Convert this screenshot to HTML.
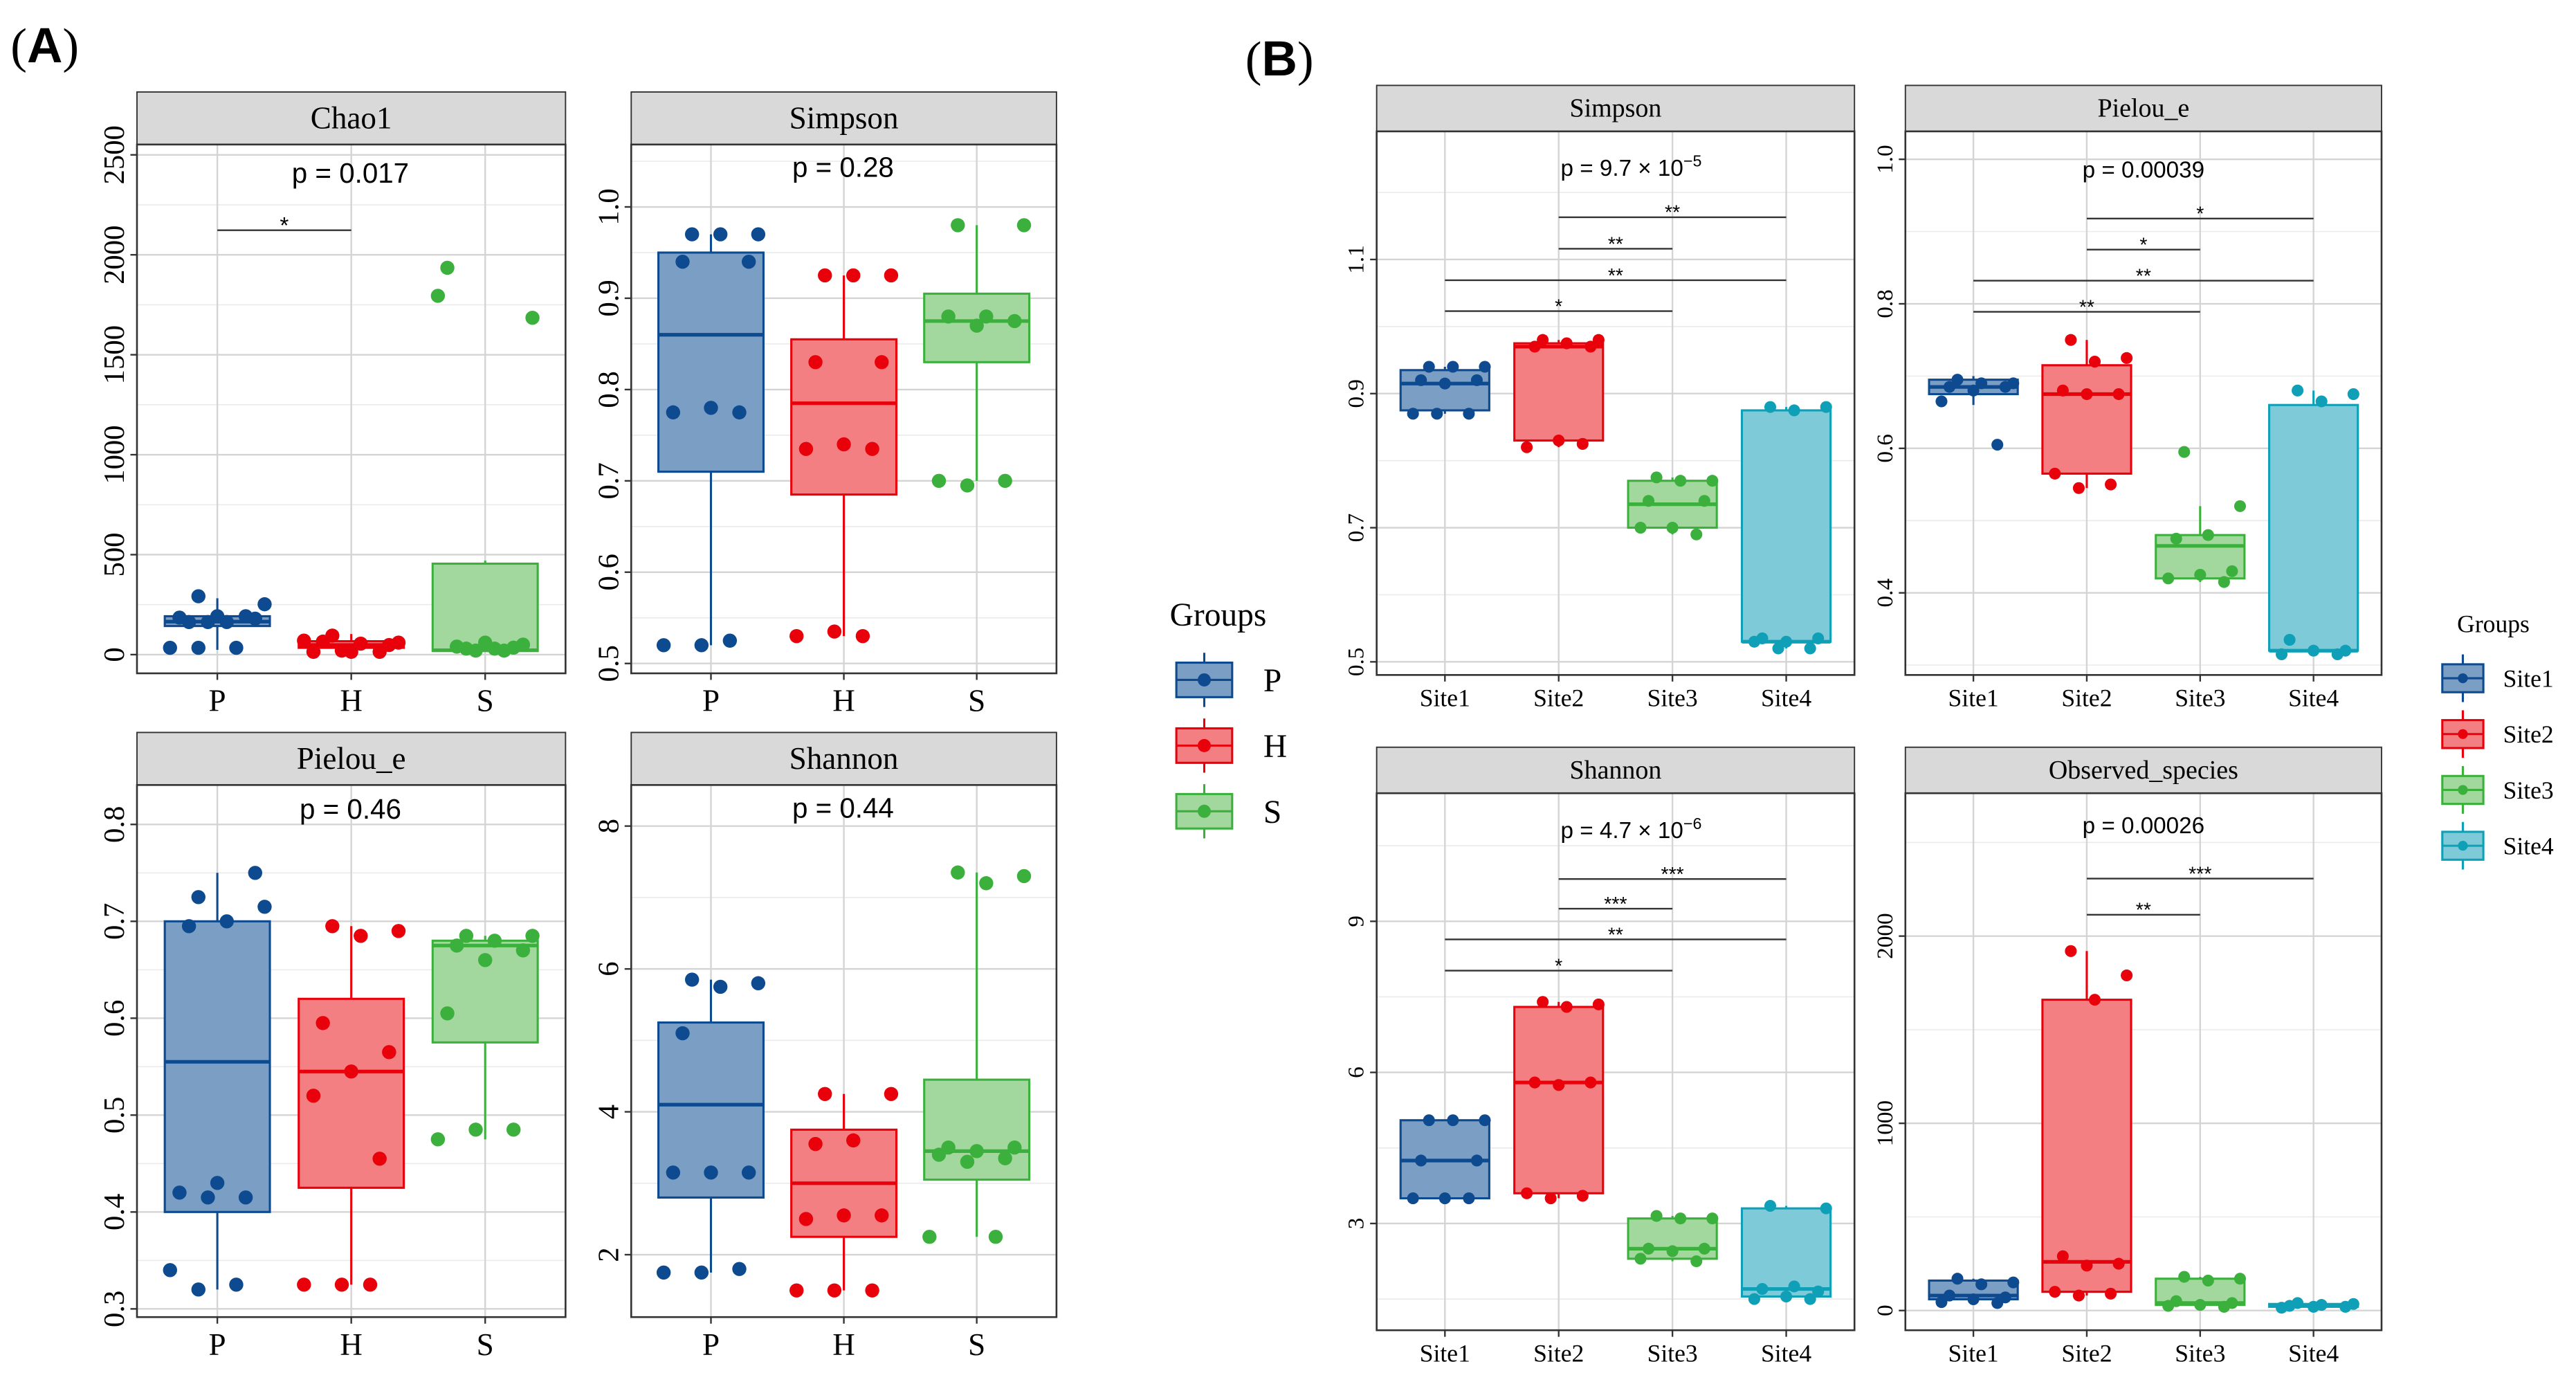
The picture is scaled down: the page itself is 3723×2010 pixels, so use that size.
<!DOCTYPE html>
<html><head><meta charset="utf-8"><style>
html,body{margin:0;padding:0;background:#fff}
svg{display:block}
</style></head><body>
<svg id="fig" xmlns="http://www.w3.org/2000/svg" width="3723" height="2010" viewBox="0 0 1568 847">
<rect x="0" y="0" width="1568" height="847" fill="#fff"/>
<text x="6" y="38" font-family="Liberation Serif, serif" font-size="30">(<tspan font-family="Liberation Sans, sans-serif" font-weight="bold">A</tspan>)</text>
<text x="758" y="46" font-family="Liberation Serif, serif" font-size="30">(<tspan font-family="Liberation Sans, sans-serif" font-weight="bold">B</tspan>)</text>
</svg>
<script>
// ---------- DATA ----------
const catsA = ['P','H','S'];
const catsB = ['Site1','Site2','Site3','Site4'];

const chaoTicks = [0,500,1000,1500,2000,2500];
const chaoQ1 = [143,34,18];
const chaoMed = [165,48,22];
const chaoQ3 = [192,67,455];
const chaoLo = [24,14,16];
const chaoHi = [282,103,470];
const chaoPts = [[292,252,163,163,180,192,185,192,163,34,34,34],[95,60,55,65,48,14,14,14,20,70],[30,1685,30,40,50,60,1935,35,20,1795,20]];
const chaoSig = [[0,1,2123,'*']];

const simATicks = [0.5,0.6,0.7,0.8,0.9,1.0];
const simAQ1 = [0.71,0.685,0.83];
const simAMed = [0.86,0.785,0.875];
const simAQ3 = [0.95,0.855,0.905];
const simALo = [0.52,0.53,0.70];
const simAHi = [0.97,0.925,0.98];
const simAPts = [[0.97,0.97,0.97,0.94,0.94,0.78,0.775,0.775,0.52,0.52,0.525],[0.925,0.925,0.925,0.83,0.83,0.74,0.735,0.735,0.535,0.53,0.53],[0.98,0.98,0.88,0.88,0.875,0.87,0.70,0.70,0.695]];

const pieATicks = [0.3,0.4,0.5,0.6,0.7,0.8];
const pieAQ1 = [0.40,0.425,0.575];
const pieAMed = [0.555,0.545,0.675];
const pieAQ3 = [0.70,0.62,0.68];
const pieALo = [0.32,0.325,0.475];
const pieAHi = [0.75,0.695,0.685];
const pieAPts = [[0.725,0.715,0.70,0.695,0.75,0.43,0.42,0.415,0.415,0.34,0.325,0.32],[0.695,0.69,0.685,0.595,0.565,0.545,0.52,0.455,0.325,0.325,0.325],[0.685,0.685,0.68,0.675,0.67,0.66,0.605,0.485,0.485,0.475]];

const shaATicks = [2,4,6,8];
const shaAQ1 = [2.8,2.25,3.05];
const shaAMed = [4.1,3.0,3.45];
const shaAQ3 = [5.25,3.75,4.45];
const shaALo = [1.75,1.5,2.25];
const shaAHi = [5.85,4.25,7.35];
const shaAPts = [[5.85,5.8,5.75,5.1,3.15,3.15,3.15,1.8,1.75,1.75],[4.25,4.25,3.6,3.55,2.55,2.55,2.5,1.5,1.5,1.5],[7.35,7.3,7.2,3.5,3.5,3.45,3.4,3.35,3.3,2.25,2.25]];

const simBTicks = [0.5,0.7,0.9,1.1];
const simBQ1 = [0.875,0.83,0.70,0.53];
const simBMed = [0.915,0.97,0.735,0.53];
const simBQ3 = [0.935,0.975,0.77,0.875];
const simBLo = [0.87,0.82,0.69,0.52];
const simBHi = [0.94,0.98,0.775,0.88];
const simBPts = [[0.94,0.94,0.94,0.92,0.92,0.915,0.87,0.87,0.87],[0.98,0.98,0.975,0.97,0.97,0.83,0.82,0.825],[0.775,0.77,0.77,0.74,0.74,0.70,0.70,0.69],[0.88,0.88,0.875,0.535,0.535,0.53,0.53,0.52,0.52]];
const simBSig = [[1,3,1.163,'**'],[1,2,1.116,'**'],[0,3,1.069,'**'],[0,2,1.023,'*']];

const pieBTicks = [0.4,0.6,0.8,1.0];
const pieBQ1 = [0.675,0.565,0.42,0.32];
const pieBMed = [0.685,0.675,0.465,0.32];
const pieBQ3 = [0.695,0.715,0.48,0.66];
const pieBLo = [0.66,0.545,0.415,0.315];
const pieBHi = [0.70,0.75,0.52,0.68];
const pieBPts = [[0.695,0.69,0.69,0.685,0.685,0.68,0.665,0.605],[0.75,0.725,0.72,0.68,0.675,0.675,0.565,0.55,0.545],[0.595,0.52,0.48,0.475,0.43,0.425,0.42,0.415],[0.68,0.675,0.665,0.335,0.32,0.32,0.315,0.315]];
const pieBSig = [[1,3,0.918,'*'],[1,2,0.875,'*'],[0,3,0.832,'**'],[0,2,0.789,'**']];

const shaBTicks = [3,6,9];
const shaBQ1 = [3.5,3.6,2.3,1.55];
const shaBMed = [4.25,5.8,2.5,1.7];
const shaBQ3 = [5.05,7.3,3.1,3.3];
const shaBLo = [3.5,3.5,2.25,1.5];
const shaBHi = [5.05,7.4,3.15,3.35];
const shaBPts = [[5.05,5.05,5.05,4.25,4.25,3.5,3.5,3.5],[7.4,7.35,7.3,5.8,5.8,5.75,3.6,3.55,3.5],[3.15,3.1,3.1,2.5,2.5,2.45,2.3,2.25],[3.35,3.3,1.75,1.7,1.65,1.55,1.5,1.5]];
const shaBSig = [[1,3,9.84,'***'],[1,2,9.25,'***'],[0,3,8.64,'**'],[0,2,8.02,'*']];

const obsTicks = [0,1000,2000];
const obsQ1 = [60,100,30,20];
const obsMed = [80,260,40,25];
const obsQ3 = [160,1660,170,35];
const obsLo = [40,80,20,15];
const obsHi = [170,1920,180,40];
const obsPts = [[170,150,140,80,70,60,45,40],[1920,1790,1660,290,250,240,100,90,80],[180,170,160,50,40,30,25,20],[40,35,30,25,20,20,15]];
const obsSig = [[1,3,2307,'***'],[1,2,2114,'**']];

// ---------- RENDER ----------
const NS='http://www.w3.org/2000/svg';
const svg=document.getElementById('fig');
const strokeC=['#0d4a8f','#e8000b','#3cb03c','#0f9fb6'];
const fillC=['#7b9ec4','#f47f82','#a2d89d','#7fcad8'];
function el(tag,attrs,parent){const e=document.createElementNS(NS,tag);for(const k in attrs)e.setAttribute(k,attrs[k]);(parent||svg).appendChild(e);return e;}
function txt(s,attrs,parent){const e=el('text',attrs,parent);e.textContent=s;return e;}

function panel(cfg){
  const g=el('g',{});
  
  
  const {x0,x1,y0,y1}=cfg;
  const n=cfg.cats.length;
  const xS=i=>x0+(x1-x0)*(i+0.6)/(n+0.2);
  const yS=v=>cfg.yA+(v-cfg.vA)*(cfg.yB-cfg.yA)/(cfg.vB-cfg.vA);
  const st=el('rect',{x:x0,y:y0-cfg.stripH,width:x1-x0,height:cfg.stripH,fill:'#d9d9d9',stroke:'#333','stroke-width':0.8},g);
  
  
  const tt=txt(cfg.title,{x:(x0+x1)/2,y:y0-cfg.stripH/2+cfg.fs*0.36,'text-anchor':'middle','font-family':'Liberation Serif, serif','font-size':cfg.fs+2},g);
  
  
  el('rect',{x:x0,y:y0,width:x1-x0,height:y1-y0,fill:'#fff'},g);
  const t=cfg.ticks;
  const step=t[1]-t[0];
  for(let v=t[0]-step/2;v<=t[t.length-1]+step;v+=step){const y=yS(v);if(y>y0&&y<y1)el('line',{x1:x0,x2:x1,y1:y,y2:y,stroke:'#ebebeb','stroke-width':0.7},g);}
  for(const v of t){const y=yS(v);el('line',{x1:x0,x2:x1,y1:y,y2:y,stroke:'#d4d4d4','stroke-width':1},g);}
  for(let i=0;i<n;i++)el('line',{x1:xS(i),x2:xS(i),y1:y0,y2:y1,stroke:'#d4d4d4','stroke-width':1},g);
  const bw=cfg.bw;
  for(let i=0;i<n;i++){
    const c=i;const cx=xS(i);
    const bg=el('g',{},g);
    
    
    el('line',{x1:cx,x2:cx,y1:yS(cfg.hi[i]),y2:yS(cfg.lo[i]),stroke:strokeC[c],'stroke-width':1.3},bg);
    const yq3=yS(cfg.q3[i]),yq1=yS(cfg.q1[i]);
    el('rect',{x:cx-bw/2,y:Math.min(yq1,yq3),width:bw,height:Math.max(1,Math.abs(yq1-yq3)),fill:fillC[c],stroke:strokeC[c],'stroke-width':1.3},bg);
    el('line',{x1:cx-bw/2,x2:cx+bw/2,y1:yS(cfg.med[i]),y2:yS(cfg.med[i]),stroke:strokeC[c],'stroke-width':2.2},bg);
    const pts=cfg.pts[i];
    pts.forEach((v,k)=>{
      const j=(((k*7+3)%11)/10-0.5)*bw*0.9;
      const p=el('circle',{cx:cx+j,cy:yS(v),r:cfg.r,fill:strokeC[c]},bg);
      
      
    });
  }
  (cfg.sig||[]).forEach(s=>{
    const y=yS(s[2]);
    const l=el('line',{x1:xS(s[0]),x2:xS(s[1]),y1:y,y2:y,stroke:'#333','stroke-width':1},g);
    
    
    const st2=txt(s[3],{x:(xS(s[0])+xS(s[1]))/2,y:y-3+cfg.starFs*0.35,'text-anchor':'middle','font-family':'Liberation Sans, sans-serif','font-size':cfg.starFs},g);
    
    
  });
  const pt=el('text',{x:cfg.pX,y:yS(cfg.pV),'text-anchor':'middle','font-family':'Liberation Sans, sans-serif','font-size':cfg.pFs},g);
  
  
  if(cfg.pExp){pt.textContent=cfg.pText;const ts=el('tspan',{'font-size':cfg.pFs*0.7,dy:-cfg.pFs*0.4},pt);ts.textContent=cfg.pExp;}
  else pt.textContent=cfg.pText;
  el('rect',{x:x0,y:y0,width:x1-x0,height:y1-y0,fill:'none',stroke:'#333','stroke-width':1.1},g);
  for(const v of t){const y=yS(v);
    el('line',{x1:x0-4,x2:x0,y1:y,y2:y,stroke:'#333','stroke-width':1},g);
    const lb=txt(String(v%1===0&&cfg.dec?v.toFixed(1):v),{x:x0-8,y:y,'text-anchor':'middle','font-family':'Liberation Serif, serif','font-size':cfg.tfs,transform:`rotate(-90 ${x0-8} ${y})`},g);
    
    
  }
  for(let i=0;i<n;i++){
    el('line',{x1:xS(i),x2:xS(i),y1:y1,y2:y1+4,stroke:'#333','stroke-width':1},g);
    const lb=txt(cfg.cats[i],{x:xS(i),y:y1+cfg.cfs+4,'text-anchor':'middle','font-family':'Liberation Serif, serif','font-size':cfg.cfs},g);
    
    
  }
}

const A={stripH:32,fs:17,bw:64,r:4.3,tfs:18,cfs:19,pFs:17,starFs:14,cats:catsA};
const B={stripH:28,fs:14,bw:54,r:3.6,tfs:14,cfs:15,pFs:14,starFs:12,cats:catsB};

panel(Object.assign({},A,{id:'chao1',title:'Chao1',x0:83,x1:344,y0:88,y1:410,vA:0,yA:398.6,vB:2500,yB:94.3,ticks:chaoTicks,q1:chaoQ1,med:chaoMed,q3:chaoQ3,lo:chaoLo,hi:chaoHi,pts:chaoPts,sig:chaoSig,pX:213,pV:2360,pText:'p = 0.017'}));
panel(Object.assign({},A,{id:'simpson-a',title:'Simpson',x0:384,x1:643,y0:88,y1:410,vA:0.5,yA:404,vB:1.0,yB:126,dec:true,ticks:simATicks,q1:simAQ1,med:simAMed,q3:simAQ3,lo:simALo,hi:simAHi,pts:simAPts,pX:513,pV:1.033,pText:'p = 0.28'}));
panel(Object.assign({},A,{id:'pielou-a',title:'Pielou_e',x0:83,x1:344,y0:478,y1:802,vA:0.3,yA:797,vB:0.8,yB:502,ticks:pieATicks,q1:pieAQ1,med:pieAMed,q3:pieAQ3,lo:pieALo,hi:pieAHi,pts:pieAPts,pX:213,pV:0.806,pText:'p = 0.46'}));
panel(Object.assign({},A,{id:'shannon-a',title:'Shannon',x0:384,x1:643,y0:478,y1:802,vA:2,yA:764,vB:8,yB:503,ticks:shaATicks,q1:shaAQ1,med:shaAMed,q3:shaAQ3,lo:shaALo,hi:shaAHi,pts:shaAPts,pX:513,pV:8.12,pText:'p = 0.44'}));

panel(Object.assign({},B,{id:'simpson-b',title:'Simpson',x0:838,x1:1129,y0:80,y1:411,vA:0.5,yA:403,vB:1.1,yB:158,ticks:simBTicks,q1:simBQ1,med:simBMed,q3:simBQ3,lo:simBLo,hi:simBHi,pts:simBPts,sig:simBSig,pX:993,pV:1.225,pText:'p = 9.7 × 10',pExp:'−5'}));
panel(Object.assign({},B,{id:'pielou-b',title:'Pielou_e',x0:1160,x1:1450,y0:80,y1:411,vA:0.4,yA:361,vB:1.0,yB:97,dec:true,ticks:pieBTicks,q1:pieBQ1,med:pieBMed,q3:pieBQ3,lo:pieBLo,hi:pieBHi,pts:pieBPts,sig:pieBSig,pX:1305,pV:0.975,pText:'p = 0.00039'}));
panel(Object.assign({},B,{id:'shannon-b',title:'Shannon',x0:838,x1:1129,y0:483,y1:810,vA:3,yA:745,vB:9,yB:561,ticks:shaBTicks,q1:shaBQ1,med:shaBMed,q3:shaBQ3,lo:shaBLo,hi:shaBHi,pts:shaBPts,sig:shaBSig,pX:993,pV:10.65,pText:'p = 4.7 × 10',pExp:'−6'}));
panel(Object.assign({},B,{id:'observed-species',title:'Observed_species',x0:1160,x1:1450,y0:483,y1:810,vA:0,yA:798,vB:2000,yB:570,ticks:obsTicks,q1:obsQ1,med:obsMed,q3:obsQ3,lo:obsLo,hi:obsHi,pts:obsPts,sig:obsSig,pX:1305,pV:2550,pText:'p = 0.00026'}));

function legend(id,title,tx,ty,tfs,labels,kx,kw,kh,ky0,dy,lx,lfs,r){
  const g=el('g',{});
  
  
  txt(title,{x:tx,y:ty,'font-family':'Liberation Serif, serif','font-size':tfs},g);
  labels.forEach((lab,i)=>{
    const cy=ky0+i*dy,cx=kx+kw/2;
    const k=el('g',{},g);
    
    
    el('line',{x1:cx,x2:cx,y1:cy-kh/2-6,y2:cy+kh/2+6,stroke:strokeC[i],'stroke-width':1.3},k);
    el('rect',{x:kx,y:cy-kh/2,width:kw,height:kh,fill:fillC[i],stroke:strokeC[i],'stroke-width':1.3},k);
    el('line',{x1:kx,x2:kx+kw,y1:cy,y2:cy,stroke:strokeC[i],'stroke-width':1.3},k);
    el('circle',{cx:cx,cy:cy,r:r,fill:strokeC[i]},k);
    txt(lab,{x:lx,y:cy+lfs*0.35,'font-family':'Liberation Serif, serif','font-size':lfs},k);
  });
}
legend('legend-a','Groups',712,381,20,catsA,716,34,21,414,40,769,20,4);
legend('legend-b','Groups',1496,385,15,catsB,1487,25,17,413,34,1524,15,3);
</script>
</body></html>
